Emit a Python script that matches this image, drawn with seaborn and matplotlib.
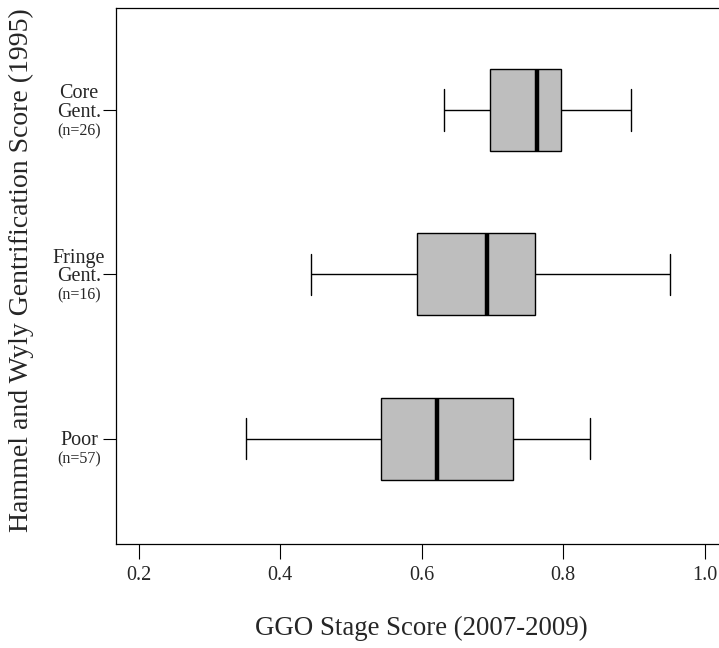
import numpy as np
import pandas as pd
import matplotlib
matplotlib.use("Agg")
import matplotlib.pyplot as plt
import seaborn as sns

# categories, top to bottom
groups = ["Core", "Fringe", "Poor"]
group_labels = ["Core\nGent.", "Fringe\nGent.", "Poor"]
group_counts = ["(n=26)", "(n=16)", "(n=57)"]

# five-number summaries: min, q1, median, q3, max
core_stats = [0.631, 0.697, 0.763, 0.797, 0.896]
fringe_stats = [0.444, 0.594, 0.693, 0.760, 0.951]
poor_stats = [0.351, 0.542, 0.622, 0.729, 0.838]

xticks = [0.2, 0.4, 0.6, 0.8, 1.0]

# long-form table; with whis=(0, 100) the five values give back the same box
df = pd.DataFrame({
    "group": np.repeat(groups, 5),
    "score": core_stats + fringe_stats + poor_stats,
})

sns.set_style("ticks")
plt.rcParams["font.family"] = ["Liberation Serif", "DejaVu Serif"]

fig = plt.figure(figsize=(7.19, 6.48), dpi=100)
# right edge of the frame sits just past the figure, as in the original
ax = fig.add_axes([0.1613, 0.1605, 0.8487, 0.8272])

sns.boxplot(data=df, x="score", y="group", order=groups, orient="h",
            whis=(0, 100), width=0.5, color="#BEBEBE", saturation=1,
            linecolor="black", linewidth=1, fliersize=0,
            medianprops=dict(linewidth=3.2, color="black"), ax=ax)

ax.set_xlim(0.1678, 1.0305)
ax.set_ylim(2.641, -0.621)

for side in ["left", "right", "top", "bottom"]:
    ax.spines[side].set_visible(True)
    ax.spines[side].set_linewidth(0.9)
    ax.spines[side].set_color("black")

ax.set_xticks(xticks)
ax.set_xticklabels([f"{t:.1f}" for t in xticks])
ax.tick_params(axis="x", length=10.8, width=0.8, pad=5, labelsize=14.5, color="black")

ax.set_yticks(range(len(groups)))
ax.set_yticklabels([""] * len(groups))
ax.tick_params(axis="y", length=9.4, width=0.8, color="black")

for i, (lab, cnt) in enumerate(zip(group_labels, group_counts)):
    ax.annotate(lab, xy=(0, i), xycoords=("axes fraction", "data"),
                xytext=(-26.6, -8.3), textcoords="offset points",
                ha="center", va="bottom", fontsize=14.5, linespacing=0.95,
                multialignment="center")
    ax.annotate(cnt, xy=(0, i), xycoords=("axes fraction", "data"),
                xytext=(-26.6, -15.2), textcoords="offset points",
                ha="center", va="center", fontsize=11.5)

ax.set_xlabel("GGO Stage Score (2007-2009)", fontsize=19.4, labelpad=22)
ax.set_ylabel("Hammel and Wyly Gentrification Score (1995)", fontsize=20)
ax.yaxis.set_label_coords(-0.1345, 0.511)

fig.savefig("out.png", dpi=100)
